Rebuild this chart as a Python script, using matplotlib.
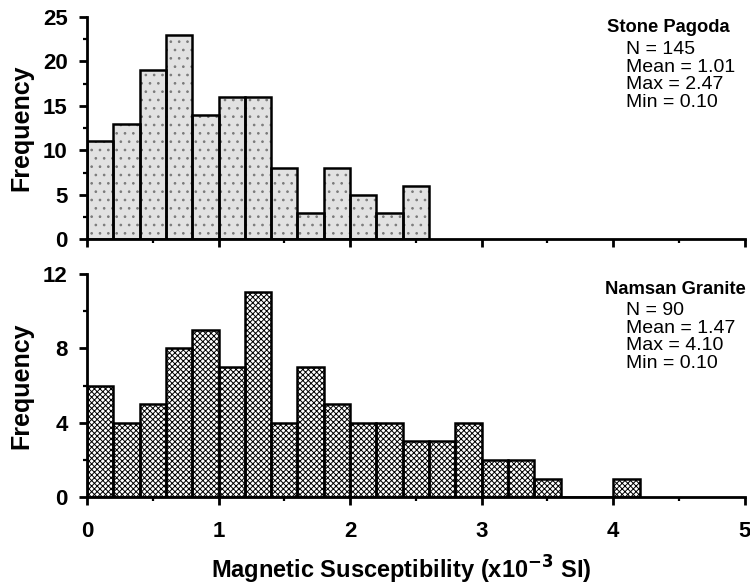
import numpy as np
import matplotlib
matplotlib.use("Agg")
import matplotlib.pyplot as plt
from matplotlib.ticker import MultipleLocator

bin_width = 0.2
pagoda_counts = [11, 13, 19, 23, 14, 16, 16, 8, 3, 8, 5, 3, 6]
granite_counts = [6, 4, 5, 8, 9, 7, 11, 4, 7, 5, 4, 4, 3, 3, 4, 2, 2, 1, 0, 0, 1]
pagoda_title = "Stone Pagoda"
pagoda_stats = "N = 145\nMean = 1.01\nMax = 2.47\nMin = 0.10"
granite_title = "Namsan Granite"
granite_stats = "N = 90\nMean = 1.47\nMax = 4.10\nMin = 0.10"
x_ticks = [0, 1, 2, 3, 4, 5]
top_yticks = [0, 5, 10, 15, 20, 25]
bot_yticks = [0, 4, 8, 12]

plt.rcParams['font.family'] = ['Liberation Sans', 'DejaVu Sans']
plt.rcParams['hatch.linewidth'] = 0.7

fig = plt.figure(figsize=(7.5, 5.85), dpi=100)
ax1 = fig.add_axes([0.116, 0.591, 0.877, 0.380])
ax2 = fig.add_axes([0.116, 0.150, 0.877, 0.382])

def draw(ax, counts, face, hatch, hcol):
    edges = np.arange(len(counts)) * bin_width
    ax.bar(edges, counts, width=bin_width, align='edge', color=face,
           hatch=hatch, edgecolor=hcol, linewidth=0, zorder=2)
    ax.bar(edges, counts, width=bin_width, align='edge', fill=False,
           edgecolor='black', linewidth=1.8, zorder=3)

draw(ax1, pagoda_counts, '#e2e2e2', '..', '#7a7a7a')
draw(ax2, granite_counts, 'white', 'xxxxxx', 'black')

for ax, yt, minor, ymax in [(ax1, top_yticks, 2.5, 25), (ax2, bot_yticks, 2, 12)]:
    ax.set_xlim(0, 5)
    ax.set_ylim(0, ymax)
    ax.set_xticks(x_ticks)
    ax.xaxis.set_minor_locator(MultipleLocator(0.5))
    ax.set_yticks(yt)
    ax.yaxis.set_minor_locator(MultipleLocator(minor))
    for s in ['top', 'right']:
        ax.spines[s].set_visible(False)
    for s in ['left', 'bottom']:
        ax.spines[s].set_linewidth(2.0)
        ax.spines[s].set_zorder(4)
    ax.tick_params(which='major', direction='out', length=6, width=2.0,
                   labelsize=16)
    ax.tick_params(which='minor', direction='out', length=3, width=1.6)
    ax.tick_params(axis='y', pad=8)
    for lab in ax.get_yticklabels() + ax.get_xticklabels():
        lab.set_fontweight('bold')
    ax.set_ylabel('Frequency', fontsize=18, fontweight='bold')
    ax.yaxis.set_label_coords(-0.082, 0.5)

ax1.tick_params(axis='x', labelbottom=False)
ax2.tick_params(axis='x', pad=11)
ax2.set_xlabel('Magnetic Susceptibility (x10$^{\\mathbf{-3}}$ SI)',
               fontsize=17, fontweight='bold')
ax2.xaxis.set_label_coords(0.477, -0.255)

cond = ['Liberation Sans Narrow', 'Liberation Sans', 'DejaVu Sans']
ax1.text(0.79, 0.99, pagoda_title, transform=ax1.transAxes, va='top', ha='left',
         fontsize=13.2, fontweight='bold', family=cond, fontstretch='condensed')
ax1.text(0.819, 0.89, pagoda_stats, transform=ax1.transAxes, va='top', ha='left',
         fontsize=14, linespacing=1.04)
ax2.text(0.787, 0.966, granite_title, transform=ax2.transAxes, va='top', ha='left',
         fontsize=13.2, fontweight='bold', family=cond, fontstretch='condensed')
ax2.text(0.819, 0.872, granite_stats, transform=ax2.transAxes, va='top', ha='left',
         fontsize=14, linespacing=1.04)

fig.savefig('out.png', dpi=100)
